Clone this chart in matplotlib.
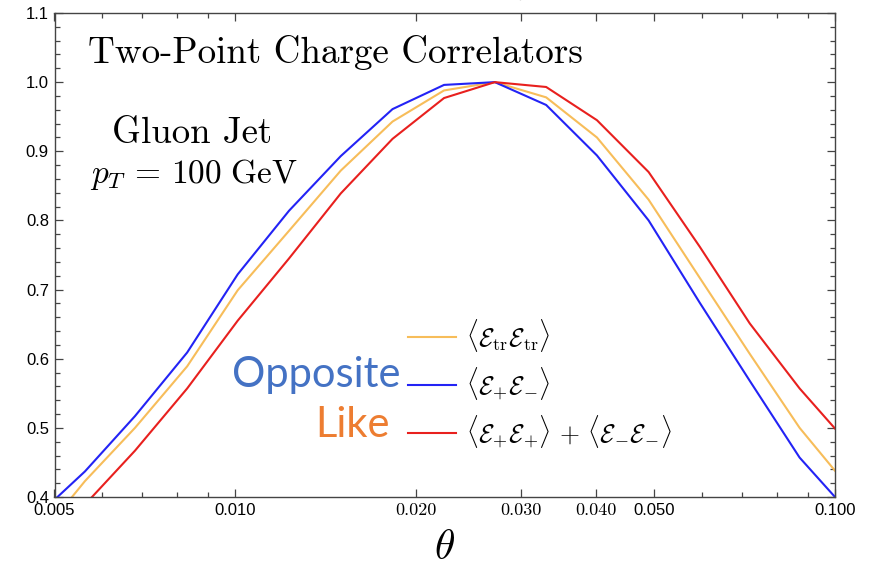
import matplotlib
matplotlib.use("Agg")
from matplotlib import pyplot as plt
from matplotlib.ticker import FixedLocator, MultipleLocator, FormatStrFormatter

# angular bins (theta) and normalised correlator values
theta = [0.005, 0.00562, 0.00681, 0.00832, 0.0101, 0.0123, 0.0150, 0.0183,
         0.0223, 0.0271, 0.0330, 0.0401, 0.0489, 0.0595, 0.0721, 0.0873, 0.100]
e_tr = [0.369, 0.423, 0.500, 0.589, 0.699, 0.785, 0.872, 0.943,
        0.988, 1.000, 0.978, 0.920, 0.830, 0.717, 0.607, 0.500, 0.438]
e_opposite = [0.396, 0.437, 0.517, 0.609, 0.722, 0.814, 0.893, 0.961,
              0.996, 1.000, 0.967, 0.894, 0.800, 0.681, 0.568, 0.457, 0.400]
e_like = [0.345, 0.389, 0.467, 0.557, 0.655, 0.745, 0.839, 0.918,
          0.977, 1.000, 0.993, 0.945, 0.870, 0.762, 0.651, 0.557, 0.499]

x_major = [0.005, 0.010, 0.020, 0.030, 0.040, 0.050, 0.100]
x_labels = ["0.005", "0.010", "0.020", "0.030", "0.040", "0.050", "0.100"]
x_minor = [0.006, 0.007, 0.008, 0.009, 0.06, 0.07, 0.08, 0.09]
serif_labels = ["0.020", "0.030", "0.040"]

labels = [r"$\langle\mathcal{E}_{\rm tr}\mathcal{E}_{\rm tr}\rangle$",
          r"$\langle\mathcal{E}_{+}\mathcal{E}_{-}\rangle$",
          r"$\langle\mathcal{E}_{+}\mathcal{E}_{+}\rangle\, +\, \langle\mathcal{E}_{-}\mathcal{E}_{-}\rangle$"]

plt.rcParams["mathtext.fontset"] = "cm"

W, H = 882, 570
fig = plt.figure(figsize=(W / 100, H / 100), dpi=100)
ax = fig.add_axes([54.5 / W, 1 - 497 / H, (835 - 54.5) / W, (497 - 13) / H])

l1, = ax.plot(theta, e_tr, color="#F7BD5A", lw=1.5, label=labels[0])
l2, = ax.plot(theta, e_opposite, color="#2323F5", lw=1.5, label=labels[1])
l3, = ax.plot(theta, e_like, color="#E8201E", lw=1.5, label=labels[2])

ax.set_xscale("log")
ax.set_xlim(0.005, 0.1)
ax.set_ylim(0.4, 1.1)

ax.xaxis.set_major_locator(FixedLocator(x_major))
ax.xaxis.set_minor_locator(FixedLocator(x_minor))
ax.set_xticks(x_major)
ax.set_xticklabels(x_labels)
ax.xaxis.set_minor_formatter(plt.NullFormatter())
ax.yaxis.set_major_locator(MultipleLocator(0.1))
ax.yaxis.set_minor_locator(MultipleLocator(0.02))
ax.yaxis.set_major_formatter(FormatStrFormatter("%.1f"))

ax.tick_params(which="both", direction="in", top=True, right=True,
               color="#444444", width=0.9)
ax.tick_params(which="major", length=6, labelsize=12, pad=4)
ax.tick_params(which="minor", length=3.5)
for lab in ax.get_xticklabels() + ax.get_yticklabels():
    if lab.get_text() in serif_labels:
        lab.set_family("cmr10")
        lab.set_fontsize(13)
    else:
        lab.set_family("Liberation Sans")
for sp in ax.spines.values():
    sp.set_color("#444444")
    sp.set_linewidth(1.0)

ax.set_xlabel(r"$\theta$", fontsize=30, labelpad=6)

# text annotations
fig.text(88 / W, 1 - 63 / H, "Two-Point Charge Correlators", family="cmr10",
         fontsize=26.7, va="baseline")
fig.text(112 / W, 1 - 143 / H, "Gluon Jet", family="cmr10", fontsize=26.5,
         va="baseline")
fig.text(90 / W, 1 - 183 / H, r"$p_T\,=\,100\ \mathrm{GeV}$", fontsize=24,
         va="baseline")
fig.text(400 / W, 1 - 375 / H, "Opposite", family="Lato", fontsize=30,
         color="#4472C4", ha="right", va="center")
fig.text(390 / W, 1 - 425 / H, "Like", family="Lato", fontsize=30,
         color="#ED7D31", ha="right", va="center")
fig.text(520 / W, 1 - 6 / H, "˘", fontsize=10, ha="center", va="center")

ax.legend(handles=[l1, l2, l3], loc="upper left",
          bbox_to_anchor=(408 / W, 1 - 317 / H), bbox_transform=fig.transFigure,
          frameon=False, fontsize=18.5, handlelength=1.85, handletextpad=0.4,
          labelspacing=0.45, borderpad=0, borderaxespad=0)

fig.savefig("out.png", dpi=100)
